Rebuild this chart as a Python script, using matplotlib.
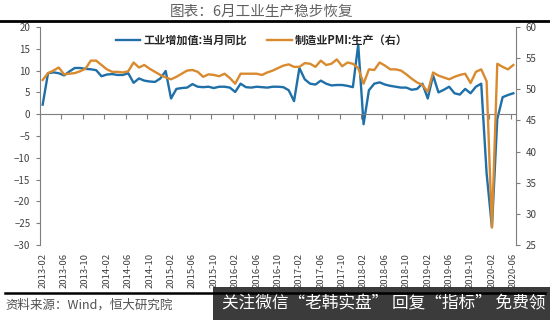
import matplotlib.pyplot as plt
import numpy as np
import pandas as pd
from matplotlib.lines import Line2D
from matplotlib.patches import Rectangle

plt.rcParams['font.family'] = ['Noto Sans CJK SC', 'DejaVu Sans']

# monthly categories 2013-02 .. 2020-06
months = pd.date_range('2013-02-01', '2020-06-01', freq='MS').strftime('%Y-%m').tolist()

# 工业增加值:当月同比 (left axis, %)
iva = [2.2, 9.4, 9.6, 9.4, 8.9, 9.8, 10.6, 10.6, 10.4, 10.3,
       10.1, 8.7, 9.1, 9.2, 9.0, 9.0, 9.4, 7.2, 8.2, 7.7,
       7.5, 7.4, 8.2, 9.9, 3.6, 5.8, 6.0, 6.1, 6.9, 6.3,
       6.2, 6.3, 6.0, 6.3, 6.3, 6.1, 5.1, 7.0, 6.2, 6.1,
       6.3, 6.2, 6.1, 6.3, 6.3, 6.2, 5.5, 3.0, 10.6, 8.0,
       7.0, 6.8, 7.7, 7.0, 6.6, 6.7, 6.7, 6.5, 6.2, 16.0,
       -2.3, 5.5, 7.0, 7.3, 6.8, 6.5, 6.3, 6.1, 6.1, 5.6,
       5.8, 7.0, 3.6, 8.9, 5.0, 5.6, 6.3, 4.8, 4.5, 5.8,
       4.8, 6.3, 7.0, -13.5, -25.9, -1.1, 3.9, 4.4, 4.8]

# 制造业PMI:生产 (right axis)
pmi = [51.5, 52.6, 53.0, 53.5, 52.4, 52.5, 52.6, 52.9, 53.3, 54.6,
       54.6, 53.9, 53.2, 52.8, 52.8, 52.7, 52.9, 54.3, 53.5, 53.9,
       53.3, 52.8, 52.3, 51.9, 51.6, 52.0, 52.5, 53.0, 53.1, 52.8,
       52.0, 52.4, 52.3, 52.1, 52.5, 51.8, 50.9, 52.5, 52.5, 52.5,
       52.5, 52.3, 52.7, 53.0, 53.4, 53.8, 54.0, 53.6, 53.6, 54.2,
       54.1, 53.6, 54.6, 53.9, 54.1, 54.8, 53.7, 54.3, 54.1, 53.4,
       50.9, 53.2, 53.1, 54.3, 53.8, 53.2, 53.2, 53.0, 52.4, 51.7,
       51.1, 50.7, 49.6, 52.7, 52.2, 51.9, 51.6, 52.0, 52.3, 52.5,
       51.0, 52.8, 53.2, 51.3, 27.8, 54.1, 53.6, 53.2, 53.9]

blue = '#1F6FA8'
orange = '#D98A2E'
grey = '#7F7F7F'
tc = '#404040'

fig = plt.figure(figsize=(5.5, 3.2), dpi=100)
ax = fig.add_axes([40/550, 1-245/320, 476/550, 218/320])
ax2 = ax.twinx()

x = np.arange(len(months))
l1, = ax.plot(x, iva, color=blue, lw=1.7, solid_joinstyle='round')
l2, = ax2.plot(x, pmi, color=orange, lw=1.7, solid_joinstyle='round')

ax.set_xlim(-0.5, len(months) - 0.5)
ax.set_ylim(-30, 20)
ax.set_yticks(range(-30, 21, 5))
ax2.set_ylim(25, 60)
ax2.set_yticks(range(25, 61, 5))

for s in ['top', 'right']:
    ax.spines[s].set_visible(False)
for s in ['top', 'left', 'bottom']:
    ax2.spines[s].set_visible(False)
ax.spines['bottom'].set_position(('data', 0))
ax.spines['bottom'].set_color(grey)
ax.spines['left'].set_color(grey)
ax2.spines['right'].set_color(grey)

ax.set_xticks(np.arange(-0.5, len(months), 4))
ax.tick_params(axis='x', direction='out', length=3.5, color=grey, labelbottom=False)
ax.tick_params(axis='y', direction='out', length=3, color=grey, labelsize=7, labelcolor=tc, pad=4)
ax2.tick_params(axis='y', direction='out', length=3, color=grey, labelsize=7, labelcolor=tc, pad=4)

sec = ax.secondary_xaxis(0)
sec.set_xticks(x[::4], labels=months[::4], rotation=90)
sec.tick_params(length=0, pad=6, labelsize=6.8, labelcolor=tc)
sec.spines['bottom'].set_visible(False)

fig.legend([l1, l2], ['工业增加值:当月同比', '制造业PMI:生产（右）'],
           loc='upper center', bbox_to_anchor=(262/550, 1-24/320), ncol=2,
           frameon=False, handlelength=2.2, handletextpad=0.3, columnspacing=1.8,
           prop={'size': 8, 'weight': 'bold'}, labelcolor='#262626')

fig.text(262/550, 1-12/320, '图表：6月工业生产稳步恢复', ha='center', va='center',
         fontsize=10.5, color='#606060')
fig.add_artist(Line2D([0, 1], [1-21/320]*2, color='black', lw=2, transform=fig.transFigure))
fig.add_artist(Line2D([5/550, 545/550], [1-293/320]*2, color='black', lw=1.8,
                      transform=fig.transFigure))
fig.text(5/550, 1-305/320, '资料来源：Wind，恒大研究院', ha='left', va='center',
         fontsize=9, color='#505050', style='italic')

fig.add_artist(Rectangle((213/550, 0), 337/550, 33/320, transform=fig.transFigure,
                         facecolor='#2A2A2A', edgecolor='none', alpha=0.92))
fig.text(222/550, 1-304/320, '关注微信“老韩实盘” 回复“指标” 免费领', ha='left', va='center',
         fontsize=12, color='white')

fig.savefig('out.png', dpi=100)
